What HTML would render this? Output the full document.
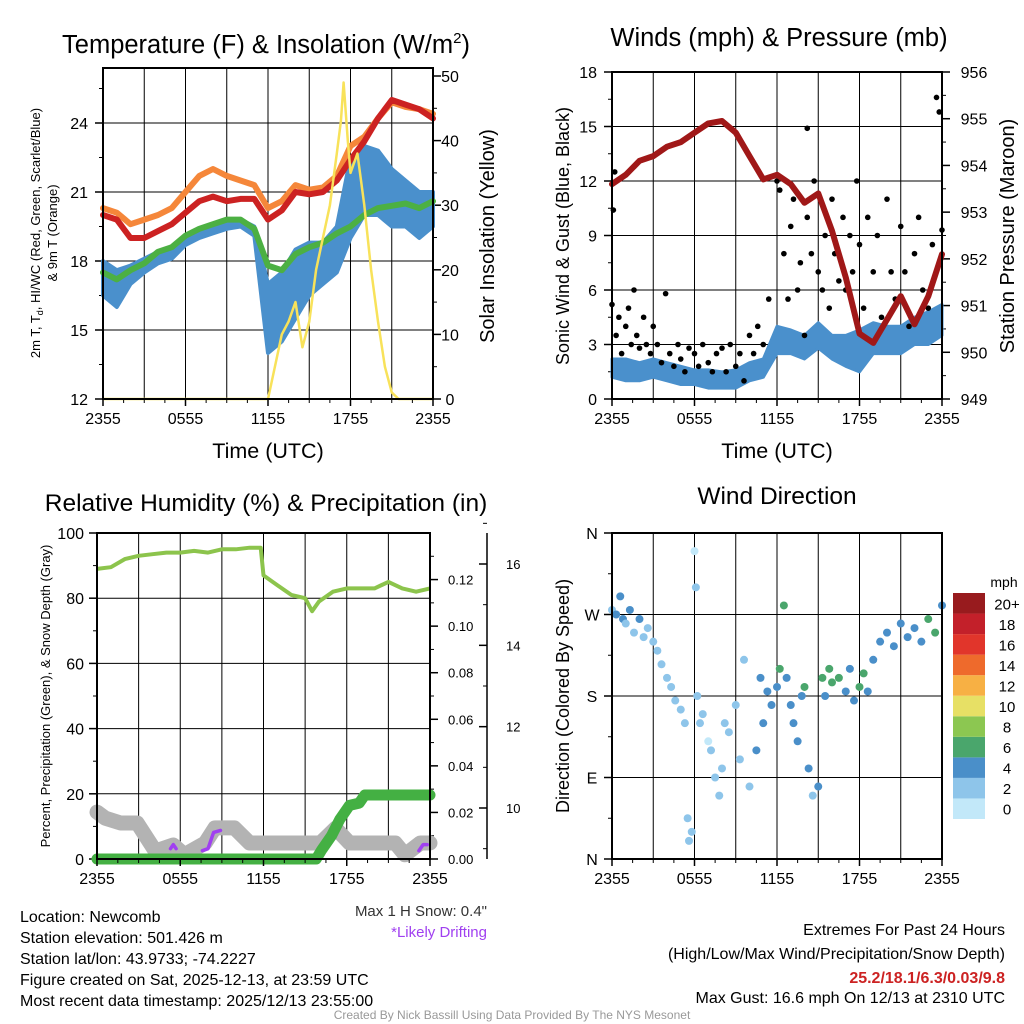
<!DOCTYPE html>
<html><head><meta charset="utf-8"><style>
html,body{margin:0;padding:0;background:#fff}
svg{display:block;font-family:"Liberation Sans",sans-serif}
</style></head><body>
<svg id="root" width="1024" height="1024" viewBox="0 0 1024 1024" xmlns="http://www.w3.org/2000/svg"></svg>
<script>
// ---------- DATA ----------
var hours = [0,1,2,3,4,5,6,7,8,9,10,11,12,13,14,15,16,17,18,19,20,21,22,23,24];
var tempRed = [20.0,19.8,19.0,19.0,19.3,19.6,20.1,20.6,20.8,20.6,20.7,20.7,19.8,20.2,21.0,20.9,21.0,21.5,22.4,23.2,24.2,25.0,24.8,24.6,24.2];
var temp9m = [20.3,20.1,19.6,19.8,20.0,20.3,21.0,21.7,22.0,21.7,21.5,21.3,20.3,20.6,21.3,21.1,21.2,21.7,23.0,23.4,24.2,24.9,24.7,24.6,24.4];
var dewGreen = [17.5,17.2,17.6,17.9,18.4,18.6,19.1,19.4,19.6,19.8,19.8,19.4,17.8,17.6,18.3,18.6,18.8,19.2,19.5,20.0,20.3,20.4,20.5,20.3,20.6];
var wcLow = [16.5,16.0,17.0,17.5,17.9,18.1,18.7,19.0,19.2,19.4,19.5,19.1,14.0,14.5,15.5,16.5,17.0,17.5,19.0,20.0,20.0,19.5,19.5,19.0,19.5];
var wcHigh = [18.0,17.6,17.8,18.1,18.4,18.6,19.1,19.4,19.6,19.8,19.8,19.5,17.0,17.5,18.5,18.8,18.8,19.5,22.5,23.0,22.8,22.0,21.5,21.0,21.0];
var solarT = [0,12,12.5,13,13.5,14,14.5,15,15.5,16,16.5,17,17.3,17.5,17.8,18,18.5,19,19.5,20,20.5,21,21.5,24];
var solarV = [0,0,5,10,12,15,8,12,20,25,30,38,43,49,40,35,38,30,20,12,5,1,0,0];
var tempTicks = [12,15,18,21,24];
var solarTicks = [0,10,20,30,40,50];
var timeLabels = ["2355","0555","1155","1755","2355"];

var windLow = [1.2,1,1,1.2,1,0.8,0.8,0.6,0.6,0.6,1,1.2,2.5,2.5,2.2,2.8,2.2,1.8,1.5,2.5,2.5,2.5,3,3,3.5];
var windHigh = [2.2,2.2,2,2.2,2,1.8,1.6,1.6,1.5,1.6,2,2.2,4,3.8,3.5,4.2,3.5,3.5,3.8,4.2,4,4,4.5,4.8,5.2];
var pressure = [953.6,953.8,954.1,954.2,954.4,954.5,954.7,954.9,954.95,954.7,954.2,953.7,953.8,953.6,953.2,953.4,952.6,951.6,950.4,950.2,950.7,951.2,950.6,951.2,952.1];
var gustT = [0,0.1,0.2,0.3,0.5,0.7,1,1.2,1.4,1.6,1.8,2,2.3,2.5,2.8,3,3.3,3.6,3.9,4.2,4.5,4.8,5,5.3,5.6,6,6.3,6.6,7,7.3,7.6,8,8.3,8.6,9,9.3,9.6,10,10.3,10.6,11,11.4,12,12.2,12.5,12.8,13,13.2,13.5,13.7,14,14.2,14.2,14.5,14.7,15,15.3,15.5,15.8,16,16.2,16.5,16.8,17,17.3,17.5,17.8,18,18.3,18.6,19,19.3,19.6,20,20.3,20.6,21,21.3,21.6,22,22.3,22.6,23,23.3,23.6,23.8,24];
var gustV = [5.2,10.4,12.5,3.5,4.5,2.5,4,5,3,6,3.5,2.8,4.5,3,2.5,4,3,2,5.8,2.5,1.8,3,2.2,1.5,2.8,2.5,1.8,3,2,1.5,2.5,2.8,1.5,3,1.8,2.5,1,3.5,2.5,4,3,5.5,12,11.5,8,5.5,9.5,11,6,7.5,3.5,10,14.9,8,12,7,6,9,5,11,8,6.5,10,6,9,7,12,8.5,5,10,7,9,4.5,11,7,5.5,9.5,7,4,8,10,6,5,8.5,16.6,15.8,9.3];
var windTicks = [0,3,6,9,12,15,18];
var presTicks = [949,950,951,952,953,954,955,956];

var rhT = [0,1,2,3,4,5,6,7,8,9,10,11,11.8,12,13,14,15,15.5,16,17,18,19,20,21,22,23,24];
var rhV = [89,89.5,92,93,93.5,94,94,94.5,94,95,95,95.5,95.5,87,84,81,80,76,79,82,83,83,83,85,83,82,83];
var precipT = [0,15.8,16.2,16.9,17.5,18.2,18.9,19.3,24];
var precipV = [0,0,0.004,0.010,0.017,0.023,0.024,0.0275,0.0275];
var snowT = [0,0.6,1.7,2.9,4.2,5.5,6.3,7.8,8.5,9.9,11,16.1,17.2,18.2,21.5,22.2,23.3,24];
var snowV = [9.9,9.75,9.63,9.63,8.94,9.09,8.85,9.14,9.51,9.51,9.14,9.14,9.5,9.14,9.14,8.85,9.14,9.14];
var driftT = [[5.3,5.5,5.7],[7.6,8.0,8.4,8.9],[23.2,23.5,23.8]];
var driftV = [[9.0,9.1,9.0],[8.95,9.0,9.4,9.45],[8.95,9.1,9.1]];
var rhTicks = [0,20,40,60,80,100];
var precipTicks = ["0.00","0.02","0.04","0.06","0.08","0.10","0.12"];
var snowTicks = [10,12,14,16];

var dirT = [0,0.3,0.6,0.8,1,1.3,1.6,2,2.3,2.6,3,3.3,3.6,4,4.3,4.6,5,5.3,5.5,5.6,5.8,6,6.1,6.2,6.4,6.6,7,7.2,7.5,7.8,8,8.2,8.5,9,9.3,9.6,10,10.5,10.8,11,11.3,11.6,12,12.2,12.5,12.7,13,13.2,13.5,13.8,14,14.3,14.6,15,15.3,15.5,15.8,16,16.5,17,17.3,17.6,18,18.3,18.6,19,19.5,20,20.5,21,21.5,22,22.5,23,23.5,24];
var dirV = [275,270,290,265,260,275,250,265,245,255,240,230,215,200,190,175,165,150,45,20,30,340,300,180,150,160,130,120,90,70,100,150,140,170,110,220,80,120,200,150,185,170,190,210,280,200,170,150,130,180,190,100,70,80,200,180,210,195,200,185,210,175,190,205,185,220,240,250,235,260,245,255,240,265,250,280];
var dirS = [2,3,4,3,2,3,2,3,2,2,1,2,1,1,1,1,1,1,1,1,1,0,1,1,1,1,0,1,1,1,1,1,1,1,1,1,1,3,3,4,3,4,4,5,5,4,3,4,4,4,5,4,2,4,5,4,6,5,5,4,4,4,6,5,4,4,4,4,3,4,4,4,3,5,6,4];
var cbLabels = ["0","2","4","6","8","10","12","14","16","18","20+"];
var cbColors = ["#c2e8f9","#8ec5ea","#4a8fc9","#4aa66c","#8cc751","#e7e065","#f7b044","#ee6a2c","#e1352b","#c3202a","#981b1e"];
var dirLabels = ["N","E","S","W","N"];

// ---------- HELPERS ----------
var NS="http://www.w3.org/2000/svg", root=document.getElementById('root');
function mk(tag,a,p){var e=document.createElementNS(NS,tag);for(var k in a)e.setAttribute(k,a[k]);(p||root).appendChild(e);return e;}
function txt(s,x,y,size,anchor,p,extra){var a={x:x,y:y,'font-size':size,'text-anchor':anchor||'middle',fill:'#000'};if(extra)for(var k in extra)a[k]=extra[k];var e=mk('text',a,p);e.textContent=s;return e;}
function line(x1,y1,x2,y2,c,w,p){return mk('line',{x1:x1,y1:y1,x2:x2,y2:y2,stroke:c,'stroke-width':w},p);}
function pathOf(xs,ys,sx,sy){var d='';for(var i=0;i<xs.length;i++)d+=(i?'L':'M')+sx(xs[i]).toFixed(1)+','+sy(ys[i]).toFixed(1);return d;}
function bandOf(xs,lo,hi,sx,sy){var d='';for(var i=0;i<xs.length;i++)d+=(i?'L':'M')+sx(xs[i]).toFixed(1)+','+sy(hi[i]).toFixed(1);for(var j=xs.length-1;j>=0;j--)d+='L'+sx(xs[j]).toFixed(1)+','+sy(lo[j]).toFixed(1);return d+'Z';}
function lin(d0,d1,r0,r1){return function(v){return r0+(v-d0)*(r1-r0)/(d1-d0);};}
function timeAxis(g,x0,x1,yb,sx){
  for(var i=0;i<timeLabels.length;i++){var x=sx(i*6);line(x,yb,x,yb+7,'#000',1.5,g);
    var t=txt(timeLabels[i],x,yb+25,16,'middle',g);
    
    }
  for(var h2=0;h2<=24;h2+=1.5) line(sx(h2),yb,sx(h2),yb+4,'#000',1,g);
}
function vgrid(g,sx,yt,yb){for(var h=3;h<24;h+=3)line(sx(h),yt,sx(h),yb,'#000',1,g);}

// ---------- PANEL 1 ----------
(function(){
 var g=mk('g',{});
 
 
 var X0=103,X1=433,YT=68,YB=399;
 var sx=lin(0,24,X0,X1), sy=lin(12,24,399,123), sy2=lin(0,50,399,76);
 var t=txt('Temperature (F) & Insolation (W/m',266,53,25.5,'middle',g);
 
 
 var ts=mk('tspan',{'font-size':15,dy:-10},t);ts.textContent='2';var ts2=mk('tspan',{dy:10},t);ts2.textContent=')';
 vgrid(g,sx,YT,YB);
 tempTicks.forEach(function(v){line(X0,sy(v),X1,sy(v),'#000',1,g);line(X0-8,sy(v),X0,sy(v),'#000',1.5,g);
   var l=txt(String(v),88,sy(v)+6,16,'end',g);
   
   
   if(v+1.5<26.3) line(X0-4,sy(v+1.5),X0,sy(v+1.5),'#000',1,g);});
 solarTicks.forEach(function(v){line(X1,sy2(v),X1+8,sy2(v),'#000',1.5,g);
   var l=txt(String(v),450,sy2(v)+6,16,'middle',g);
   
   
   if(v<50) line(X1,sy2(v+5),X1+4,sy2(v+5),'#000',1,g);});
 var y1=txt('2m T, T',0,0,13,'middle',g,{transform:'translate(40,233) rotate(-90)'});
 
 
 var sb=mk('tspan',{'font-size':9,dy:3},y1);sb.textContent='d';var r=mk('tspan',{dy:-3},y1);r.textContent=', HI/WC (Red, Green, Scarlet/Blue)';
 var y1b=txt('& 9m T (Orange)',0,0,13,'middle',g,{transform:'translate(57,233) rotate(-90)'});
 
 
 var y2=txt('Solar Insolation (Yellow)',0,0,20,'middle',g,{transform:'translate(494,236) rotate(-90)'});
 
 
 var s;
 s=mk('path',{d:bandOf(hours,wcLow,wcHigh,sx,sy),fill:'#4a90cc',stroke:'#4a90cc','stroke-width':4,'stroke-linejoin':'round'},g);
 
 
 s=mk('path',{d:pathOf(hours,dewGreen,sx,sy),fill:'none',stroke:'#4cb043','stroke-width':6,'stroke-linejoin':'round','stroke-linecap':'round'},g);
 
 
 s=mk('path',{d:pathOf(hours,temp9m,sx,sy),fill:'none',stroke:'#f5873a','stroke-width':6,'stroke-linejoin':'round','stroke-linecap':'round'},g);
 
 
 s=mk('path',{d:pathOf(hours,tempRed,sx,sy),fill:'none',stroke:'#cc2222','stroke-width':6,'stroke-linejoin':'round','stroke-linecap':'round'},g);
 
 
 s=mk('path',{d:pathOf(solarT,solarV,sx,sy2),fill:'none',stroke:'#f8e25a','stroke-width':2.5,'stroke-linejoin':'round'},g);
 
 
 mk('rect',{x:X0,y:YT,width:X1-X0,height:YB-YT,fill:'none',stroke:'#000','stroke-width':2},g);
 timeAxis(g,X0,X1,YB,sx);
 var xt=txt('Time (UTC)',268,458,21.5,'middle',g);
 
 
})();

// ---------- PANEL 2 ----------
(function(){
 var g=mk('g',{});
 
 
 var X0=612,X1=942,YT=72,YB=399;
 var sx=lin(0,24,X0,X1), sy=lin(0,18,399,72), sy2=lin(949,956,399,72);
 var t=txt('Winds (mph) & Pressure (mb)',779,46,25.5,'middle',g);
 
 
 vgrid(g,sx,YT,YB);
 windTicks.forEach(function(v){if(v>0&&v<18)line(X0,sy(v),X1,sy(v),'#000',1,g);line(X0-8,sy(v),X0,sy(v),'#000',1.5,g);
   var l=txt(String(v),597,sy(v)+6,16,'end',g);
   
   
   if(v<18) line(X0-4,sy(v+1.5),X0,sy(v+1.5),'#000',1,g);});
 presTicks.forEach(function(v){line(X1,sy2(v),X1+8,sy2(v),'#000',1.5,g);
   var l=txt(String(v),974,sy2(v)+6,16,'middle',g);
   
   
   if(v<956) line(X1,sy2(v+0.5),X1+4,sy2(v+0.5),'#000',1,g);});
 var y1=txt('Sonic Wind & Gust (Blue, Black)',0,0,18,'middle',g,{transform:'translate(569,236) rotate(-90)'});
 
 
 var y2=txt('Station Pressure (Maroon)',0,0,20,'middle',g,{transform:'translate(1014,236) rotate(-90)'});
 
 
 var s=mk('path',{d:bandOf(hours,windLow,windHigh,sx,sy),fill:'#4a90cc',stroke:'#4a90cc','stroke-width':3,'stroke-linejoin':'round'},g);
 
 
 for(var i=0;i<gustT.length;i++){var c=mk('circle',{cx:sx(gustT[i]),cy:sy(gustV[i]),r:2.8,fill:'#000'},g);
   
   }
 s=mk('path',{d:pathOf(hours,pressure,sx,sy2),fill:'none',stroke:'#a01818','stroke-width':6,'stroke-linejoin':'round','stroke-linecap':'round'},g);
 
 
 mk('rect',{x:X0,y:YT,width:X1-X0,height:YB-YT,fill:'none',stroke:'#000','stroke-width':2},g);
 timeAxis(g,X0,X1,YB,sx);
 var xt=txt('Time (UTC)',777,458,21.5,'middle',g);
 
 
})();

// ---------- PANEL 3 ----------
(function(){
 var g=mk('g',{});
 
 
 var X0=97,X1=430,YT=533,YB=859;
 var sx=lin(0,24,X0,X1), sy=lin(0,100,859,533), sp=lin(0,0.14,859,533), ss=lin(10,16,808,564);
 var t=txt('Relative Humidity (%) & Precipitation (in)',266,511,24.5,'middle',g);
 
 
 vgrid(g,sx,YT,YB);
 rhTicks.forEach(function(v){if(v>0&&v<100)line(X0,sy(v),X1,sy(v),'#000',1,g);line(X0-8,sy(v),X0,sy(v),'#000',1.5,g);
   var l=txt(String(v),84,sy(v)+6,16,'end',g);
   
   
   if(v<100) line(X0-4,sy(v+10),X0,sy(v+10),'#000',1,g);});
 precipTicks.forEach(function(v){var y=sp(parseFloat(v));line(X1,y,X1+8,y,'#000',1.5,g);
   var l=txt(v,448,y+5,13,'start',g);
   
   
   line(X1,sp(parseFloat(v)+0.01),X1+4,sp(parseFloat(v)+0.01),'#000',1,g);});
 line(487,YT,487,YB,'#000',1.5,g);
 snowTicks.forEach(function(v){line(479,ss(v),487,ss(v),'#000',1.5,g);
   var l=txt(String(v),506,ss(v)+5,13,'start',g);
   
   
   line(483,ss(v+1),487,ss(v+1),'#000',1,g);});
 line(483,ss(9),487,ss(9),'#000',1,g);
 var y1=txt('Percent, Precipitation (Green), & Snow Depth (Gray)',0,0,13,'middle',g,{transform:'translate(50,696) rotate(-90)'});
 
 
 var s=mk('path',{d:pathOf(snowT,snowV,sx,ss),fill:'none',stroke:'#b3b3b3','stroke-width':15,'stroke-linejoin':'round','stroke-linecap':'round'},g);
 
 
 for(var i=0;i<driftT.length;i++){var dp=mk('path',{d:pathOf(driftT[i],driftV[i],sx,ss),fill:'none',stroke:'#a040f0','stroke-width':3.5,'stroke-linecap':'round','stroke-linejoin':'round'},g);
   
   }
 s=mk('path',{d:pathOf(precipT,precipV,sx,sp),fill:'none',stroke:'#44b043','stroke-width':11,'stroke-linejoin':'round','stroke-linecap':'round'},g);
 
 
 s=mk('path',{d:pathOf(rhT,rhV,sx,sy),fill:'none',stroke:'#8cc44c','stroke-width':4,'stroke-linejoin':'round'},g);
 
 
 mk('rect',{x:X0,y:YT,width:X1-X0,height:YB-YT,fill:'none',stroke:'#000','stroke-width':2},g);
 timeAxis(g,X0,X1,YB,sx);
 var a=txt('Max 1 H Snow: 0.4"',487,916,15,'end',g,{fill:'#333'});
 
 
 a=txt('*Likely Drifting',487,937,15,'end',g,{fill:'#a040f0'});
 
 
})();

// ---------- PANEL 4 ----------
(function(){
 var g=mk('g',{});
 
 
 var X0=612,X1=942,YT=533,YB=859;
 var sx=lin(0,24,X0,X1), sy=lin(0,360,859,533);
 var t=txt('Wind Direction',777,504,24.5,'middle',g);
 
 
 vgrid(g,sx,YT,YB);
 dirLabels.forEach(function(v,i){var y=sy(i*90);if(i>0&&i<4)line(X0,y,X1,y,'#000',1,g);line(X0-8,y,X0,y,'#000',1.5,g);
   var l=txt(v,592,y+6,16,'middle',g);
   
   
   if(i<4) line(X0-4,sy(i*90+45),X0,sy(i*90+45),'#000',1,g);});
 var y1=txt('Direction (Colored By Speed)',0,0,18,'middle',g,{transform:'translate(569,696) rotate(-90)'});
 
 
 for(var i=0;i<dirT.length;i++){var ci=Math.min(10,Math.round(dirS[i]/2));
   var c=mk('circle',{cx:sx(dirT[i]),cy:sy(dirV[i]),r:4,fill:cbColors[ci]},g);
   
   }
 mk('rect',{x:X0,y:YT,width:X1-X0,height:YB-YT,fill:'none',stroke:'#000','stroke-width':2},g);
 timeAxis(g,X0,X1,YB,sx);
 var cb=mk('g',{},g);
 
 
 var h=(819-593)/cbColors.length;
 for(var k=0;k<cbColors.length;k++){var y=819-(k+1)*h;
   var r=mk('rect',{x:953,y:y,width:32,height:h,fill:cbColors[k]},cb);
   
   
   var l=txt(cbLabels[k],1007,y+h/2+6,15,'middle',cb);
   
   }
 var u=txt('mph',1004,587,14,'middle',cb);
 
 
})();

// ---------- FOOTER TEXT ----------
(function(){
 var g=mk('g',{});
 
 
 var lines=['Location: Newcomb','Station elevation: 501.426 m','Station lat/lon: 43.9733; -74.2227','Figure created on Sat, 2025-12-13, at 23:59 UTC','Most recent data timestamp: 2025/12/13 23:55:00'];
 lines.forEach(function(s,i){var t=txt(s,20,922+i*21,16,'start',g);
   
   });
 var t=txt('Extremes For Past 24 Hours',1005,935,16,'end',g);
 
 
 t=txt('(High/Low/Max Wind/Precipitation/Snow Depth)',1005,959,16,'end',g);
 
 
 t=txt('25.2/18.1/6.3/0.03/9.8',1005,983,16,'end',g,{fill:'#cc2222','font-weight':'bold'});
 
 
 t=txt('Max Gust: 16.6 mph On 12/13 at 2310 UTC',1005,1003,16,'end',g);
 
 
 t=txt('Created By Nick Bassill Using Data Provided By The NYS Mesonet',512,1019,12,'middle',g,{fill:'#999'});
 
 
})();
</script>
</body></html>
